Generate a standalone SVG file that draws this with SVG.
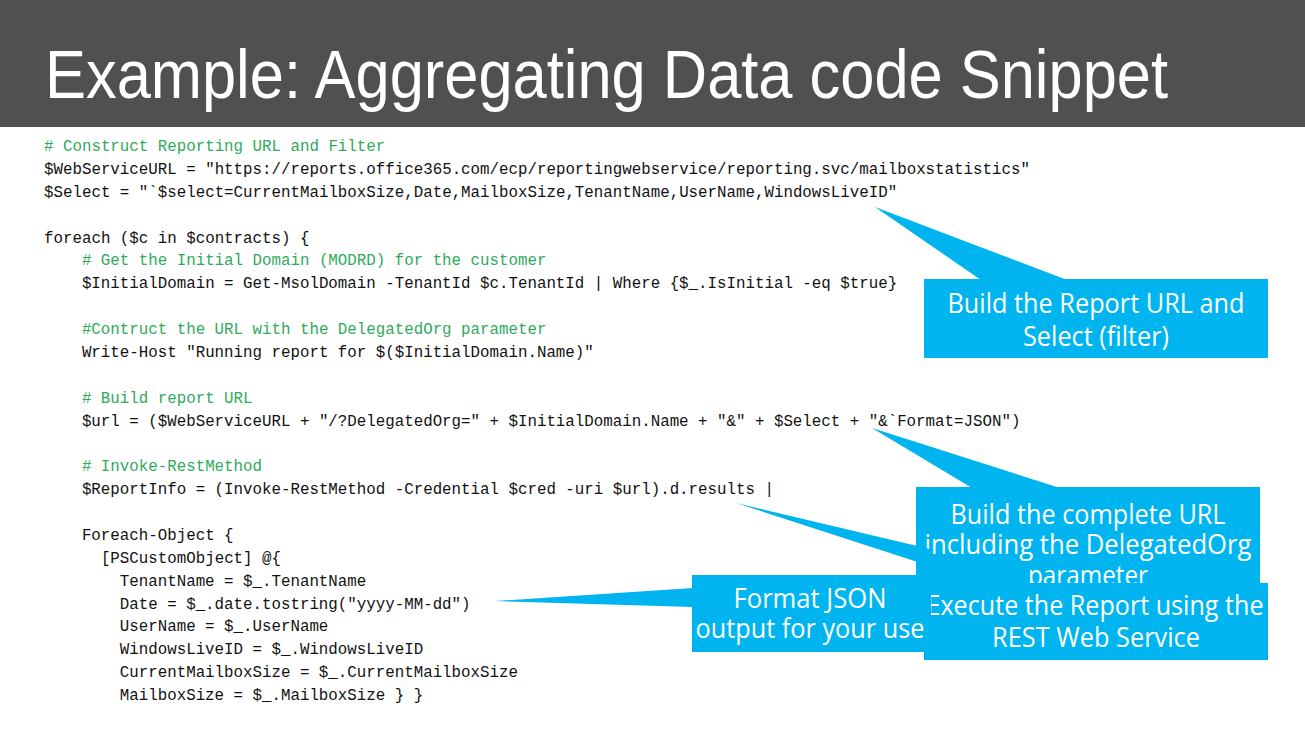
<svg xmlns="http://www.w3.org/2000/svg" width="1305" height="734" viewBox="0 0 1305 734">
<defs>
<style>
.code{font-family:"Liberation Mono","DejaVu Sans Mono",monospace;font-size:15.8px;fill:#111111}
.cm{fill:#2FAA5C}
.co{fill:#00B5EF}
.ct{font-family:"Open Sans","Noto Sans",sans-serif;font-size:27px;fill:#ffffff;text-anchor:middle}
</style>
<clipPath id="clip3"><rect x="600" y="560" width="324" height="100"/></clipPath>
<clipPath id="clip4"><rect x="931" y="560" width="360" height="110"/></clipPath>
</defs>
<rect width="1305" height="734" fill="#ffffff"/>
<g id="header">
<rect x="0" y="0" width="1305" height="127" fill="#505050"/>
<text x="45" y="98" font-family="Liberation Sans, Arial, sans-serif" font-size="68" fill="#ffffff" textLength="1123" lengthAdjust="spacingAndGlyphs">Example: Aggregating Data code Snippet</text>
</g>
<g id="code" class="code">
<text x="44" y="151" class="cm"># Construct Reporting URL and Filter</text>
<text x="44" y="173.9">$WebServiceURL = "https://reports.office365.com/ecp/reportingwebservice/reporting.svc/mailboxstatistics"</text>
<text x="44" y="196.8">$Select = "`$select=CurrentMailboxSize,Date,MailboxSize,TenantName,UserName,WindowsLiveID"</text>
<text x="44" y="242.5">foreach ($c in $contracts) {</text>
<text x="81.9" y="265.4" class="cm"># Get the Initial Domain (MODRD) for the customer</text>
<text x="81.9" y="288.3">$InitialDomain = Get-MsolDomain -TenantId $c.TenantId | Where {$_.IsInitial -eq $true}</text>
<text x="81.9" y="334" class="cm">#Contruct the URL with the DelegatedOrg parameter</text>
<text x="81.9" y="356.9">Write-Host "Running report for $($InitialDomain.Name)"</text>
<text x="81.9" y="402.6" class="cm"># Build report URL</text>
<text x="81.9" y="425.5">$url = ($WebServiceURL + "/?DelegatedOrg=" + $InitialDomain.Name + "&amp;" + $Select + "&amp;`Format=JSON")</text>
<text x="81.9" y="471.3" class="cm"># Invoke-RestMethod</text>
<text x="81.9" y="494.1">$ReportInfo = (Invoke-RestMethod -Credential $cred -uri $url).d.results |</text>
<text x="81.9" y="539.9">Foreach-Object {</text>
<text x="100.9" y="562.8">[PSCustomObject] @{</text>
<text x="119.8" y="585.6">TenantName = $_.TenantName</text>
<text x="119.8" y="608.5">Date = $_.date.tostring("yyyy-MM-dd")</text>
<text x="119.8" y="631.4">UserName = $_.UserName</text>
<text x="119.8" y="654.3">WindowsLiveID = $_.WindowsLiveID</text>
<text x="119.8" y="677.1">CurrentMailboxSize = $_.CurrentMailboxSize</text>
<text x="119.8" y="700">MailboxSize = $_.MailboxSize } }</text>
</g>
<g id="callout-report-url">
<polygon class="co" points="875,207 1067,280 981,280"/>
<rect class="co" x="924" y="279" width="344" height="79"/>
<text class="ct" x="1096" y="313" textLength="297" lengthAdjust="spacingAndGlyphs">Build the Report URL and</text>
<text class="ct" x="1096" y="346" textLength="146" lengthAdjust="spacingAndGlyphs">Select (filter)</text>
</g>
<g id="callout-complete-url">
<polygon class="co" points="872,428 1060,488 972,488"/>
<rect class="co" x="916" y="487" width="344" height="110"/>
<text class="ct" x="1088" y="524" textLength="275" lengthAdjust="spacingAndGlyphs">Build the complete URL</text>
<text class="ct" x="1088" y="554" textLength="327" lengthAdjust="spacingAndGlyphs">including the DelegatedOrg</text>
<text class="ct" x="1088" y="585" textLength="120" lengthAdjust="spacingAndGlyphs">parameter</text>
</g>
<g id="callout-execute">
<polygon class="co" points="736,503 930,549 930,566"/>
<rect class="co" x="924" y="583" width="344" height="77"/>
<g clip-path="url(#clip4)">
<text class="ct" x="1095" y="615" textLength="337" lengthAdjust="spacingAndGlyphs">Execute the Report using the</text>
<text class="ct" x="1096" y="647" textLength="208" lengthAdjust="spacingAndGlyphs">REST Web Service</text>
</g>
</g>
<g id="callout-format-json">
<polygon class="co" points="495,601 693,588 693,607"/>
<rect class="co" x="692" y="575" width="232" height="77"/>
<g clip-path="url(#clip3)">
<text class="ct" x="810" y="608" textLength="153" lengthAdjust="spacingAndGlyphs">Format JSON</text>
<text class="ct" x="810" y="638" textLength="229" lengthAdjust="spacingAndGlyphs">output for your use</text>
</g>
</g>
<g id="connectors"></g>
</svg>
